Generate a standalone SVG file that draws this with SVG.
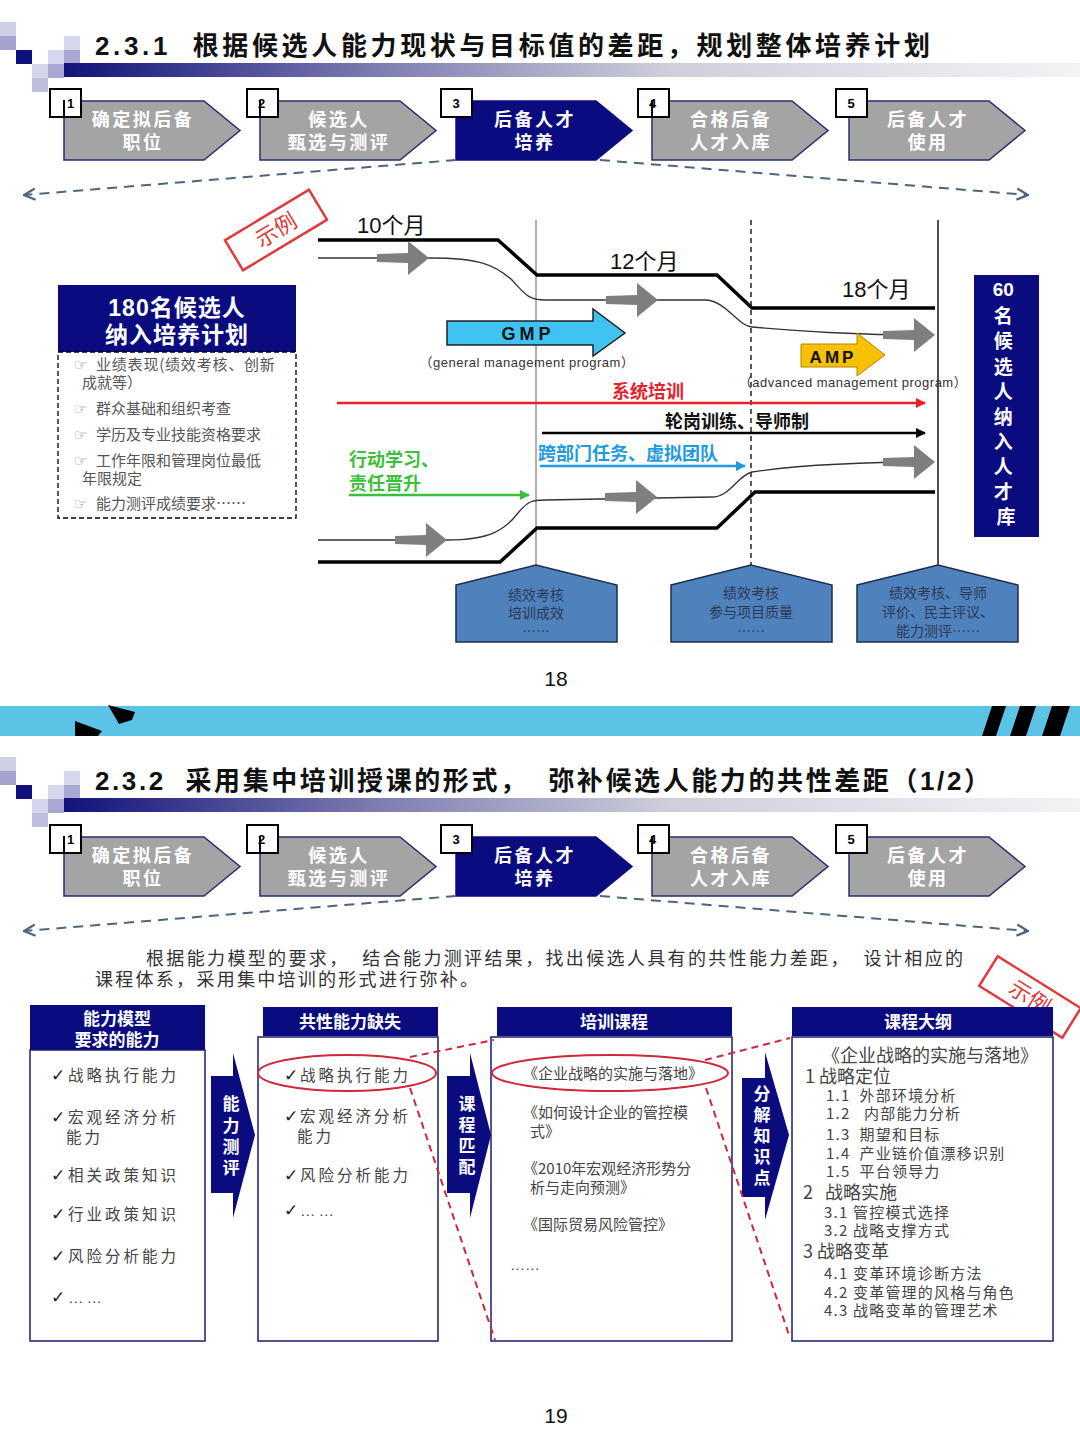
<svg xmlns="http://www.w3.org/2000/svg" width="1080" height="1443" viewBox="0 0 1080 1443">
<style>
.s{font-family:"Liberation Sans","Noto Sans CJK SC",sans-serif}
.c{font-family:"Noto Sans CJK SC","Liberation Sans",sans-serif}
.title{font-size:26px;font-weight:bold;fill:#111}
.step{font-size:18px;font-weight:bold;fill:#fff;letter-spacing:2.5px}
.num{font-size:13px;font-weight:bold;fill:#000}
.nbox{fill:#fff;stroke:#000;stroke-width:2}
.chevg{fill:#a4a4a4;stroke:#2b2b72;stroke-width:1.5}
.chevn{fill:#0b0b80;stroke:#0b0b80;stroke-width:1.5}
.dash{fill:none;stroke:#50647e;stroke-width:2;stroke-dasharray:10 7}
.item{font-size:15px;fill:#555}
.ico{font-family:"DejaVu Sans",sans-serif;font-size:15px;fill:#888}
.thick{fill:none;stroke:#000;stroke-width:3.5}
.thin{fill:none;stroke:#333;stroke-width:1.3}
.garr{fill:#7f7f7f}
.mon{font-size:22px;fill:#111}
.pent{fill:#4f81bd;stroke:#1d2c48;stroke-width:1.5}
.pt{font-size:14px;fill:#2c3a56;text-anchor:middle}
.hdr{fill:#0b0b80}
.hw{font-size:17px;font-weight:bold;fill:#fff;text-anchor:middle}
.body{fill:#fff;stroke:#1c1c6e;stroke-width:1.5}
.ci{font-size:15.5px;fill:#444;letter-spacing:3px}
.ck{font-family:"DejaVu Sans",sans-serif;font-size:17px;font-weight:bold;fill:#222}
.oi{font-size:15px;fill:#444}
.ol{font-size:15px;fill:#444;letter-spacing:1.2px}
.oh{font-size:18px;fill:#444}
.redd{fill:none;stroke:#d0283a;stroke-width:2;stroke-dasharray:7 5}
.stamp{fill:none;stroke:#e03a3a;stroke-width:2.5}
.vt{font-size:17px;font-weight:bold;fill:#fff;text-anchor:middle}
</style>
<defs>
<linearGradient id="bar" x1="0" x2="1" y1="0" y2="0">
<stop offset="0" stop-color="#12127a"/>
<stop offset="0.3" stop-color="#7a7ab0"/>
<stop offset="0.6" stop-color="#cfcfdc"/>
<stop offset="1" stop-color="#f3f3f5"/>
</linearGradient>
<g id="sq">
<rect x="0" y="22" width="16" height="14" fill="#cfcfe6"/>
<rect x="0" y="36" width="16" height="14" fill="#a3a3cf"/>
<rect x="16" y="50" width="16" height="14" fill="#10107a"/>
<rect x="32" y="64" width="16" height="14" fill="#d4d4ea"/>
<rect x="32" y="78" width="16" height="14" fill="#bdbddc"/>
<rect x="48" y="50" width="16" height="14" fill="#d6d6ec"/>
<rect x="48" y="64" width="16" height="14" fill="#a8a8d2"/>
<rect x="64" y="36" width="16" height="14" fill="#d6d6ec"/>
<rect x="64" y="50" width="16" height="14" fill="#a8a8d2"/>
<rect x="64" y="63" width="1016" height="14" fill="url(#bar)"/>
</g>
<path id="chev" d="M0,0 H140 L176,29.5 L140,59 H0 Z"/>
<path id="garrow" d="M-52,-4 L-21,-5 L-21,-17 L0,0 L-21,17 L-21,5 L-52,4 Z"/>
<marker id="mL" viewBox="0 0 10 10" refX="9" refY="5" markerWidth="7" markerHeight="7" markerUnits="strokeWidth" orient="auto">
<path d="M1,1 L9,5 L1,9" fill="none" stroke="#50647e" stroke-width="1.6"/>
</marker>
<marker id="mRed" viewBox="0 0 10 10" refX="9" refY="5" markerWidth="4" markerHeight="4" orient="auto"><path d="M0,0 L10,5 L0,10 Z" fill="#e8202a"/></marker>
<marker id="mBlk" viewBox="0 0 10 10" refX="9" refY="5" markerWidth="4" markerHeight="4" orient="auto"><path d="M0,0 L10,5 L0,10 Z" fill="#000"/></marker>
<marker id="mBlu" viewBox="0 0 10 10" refX="9" refY="5" markerWidth="4" markerHeight="4" orient="auto"><path d="M0,0 L10,5 L0,10 Z" fill="#1e9be0"/></marker>
<marker id="mGrn" viewBox="0 0 10 10" refX="9" refY="5" markerWidth="4" markerHeight="4" orient="auto"><path d="M0,0 L10,5 L0,10 Z" fill="#3cc03c"/></marker>
</defs>

<!-- ===== Slide 1 header ===== -->
<g id="header1">
<use href="#sq"/>
<text class="s title" x="95" y="55" textLength="835" xml:space="preserve">2.3.1  根据候选人能力现状与目标值的差距，规划整体培养计划</text>
</g>

<g id="steps1">
<g id="s1-step1"><use href="#chev" x="64" y="101" class="chevg"/><text class="c step" text-anchor="middle"><tspan x="143" y="126">确定拟后备</tspan><tspan x="143" y="149">职位</tspan></text><rect class="nbox" x="50" y="89" width="31" height="28"/><text class="s num" x="67" y="108">1</text><line x1="64" y1="100" x2="64" y2="117" stroke="#000" stroke-width="2"/></g>
<g id="s1-step2"><use href="#chev" x="260" y="101" class="chevg"/><text class="c step" text-anchor="middle"><tspan x="339" y="126">候选人</tspan><tspan x="339" y="149">甄选与测评</tspan></text><rect class="nbox" x="247" y="89" width="31" height="28"/><text class="s num" x="258" y="108">2</text><line x1="260" y1="100" x2="260" y2="117" stroke="#000" stroke-width="2"/></g>
<g id="s1-step3"><use href="#chev" x="456" y="101" class="chevn"/><text class="c step" text-anchor="middle"><tspan x="535" y="126">后备人才</tspan><tspan x="535" y="149">培养</tspan></text><rect class="nbox" x="441" y="89" width="31" height="28"/><text class="s num" x="456" y="108" text-anchor="middle">3</text></g>
<g id="s1-step4"><use href="#chev" x="652" y="101" class="chevg"/><text class="c step" text-anchor="middle"><tspan x="731" y="126">合格后备</tspan><tspan x="731" y="149">人才入库</tspan></text><rect class="nbox" x="638" y="89" width="31" height="28"/><text class="s num" x="649" y="108">4</text><line x1="652" y1="100" x2="652" y2="117" stroke="#000" stroke-width="2"/></g>
<g id="s1-step5"><use href="#chev" x="849" y="101" class="chevg"/><text class="c step" text-anchor="middle"><tspan x="928" y="126">后备人才</tspan><tspan x="928" y="149">使用</tspan></text><rect class="nbox" x="836" y="89" width="31" height="28"/><text class="s num" x="851" y="108" text-anchor="middle">5</text></g>
</g>

<g id="s1-connectors">
<path class="dash" d="M456,160 L24,195" marker-end="url(#mL)"/>
<path class="dash" d="M600,160 L1028,195" marker-end="url(#mL)"/>
</g>

<!-- stamp -->
<g id="stamp1" transform="translate(276,230) rotate(-31)">
<rect class="stamp" x="-49" y="-17.5" width="98" height="35" fill="#fff"/>
<text class="c" x="0" y="8" font-size="22" fill="#e03a3a" text-anchor="middle">示例</text>
</g>

<!-- left box -->
<g id="plan180">
<rect x="58" y="285" width="238" height="67" class="hdr"/>
<text class="s" font-size="23" font-weight="bold" fill="#fff" text-anchor="middle" letter-spacing="1"><tspan x="177" y="316">180名候选人</tspan><tspan x="177" y="343">纳入培养计划</tspan></text>
<rect x="58" y="352" width="238" height="166" fill="#fff" stroke="#000" stroke-width="1.3" stroke-dasharray="5 3"/>
<text class="ico" x="74" y="370">☞</text><text class="c item" x="96" y="370" letter-spacing="0.8">业绩表现(绩效考核、创新</text>
<text class="c item" x="82" y="388">成就等）</text>
<text class="ico" x="74" y="414">☞</text><text class="c item" x="96" y="414">群众基础和组织考查</text>
<text class="ico" x="74" y="440">☞</text><text class="c item" x="96" y="440">学历及专业技能资格要求</text>
<text class="ico" x="74" y="466">☞</text><text class="c item" x="96" y="466">工作年限和管理岗位最低</text>
<text class="c item" x="82" y="484">年限规定</text>
<text class="ico" x="74" y="509">☞</text><text class="c item" x="96" y="509">能力测评成绩要求……</text>
</g>

<!-- chart -->
<g id="chart-lines">
<line x1="536" y1="220" x2="536" y2="566" stroke="#7a7a7a" stroke-width="1.2"/>
<line x1="751" y1="220" x2="751" y2="566" stroke="#000" stroke-width="1.3" stroke-dasharray="5 4"/>
<line x1="938" y1="220" x2="938" y2="566" stroke="#222" stroke-width="1.6"/>
<path class="thick" d="M318,240 L498,240 L537,275 L717,275 L752,308 L935,308"/>
<path class="thick" d="M318,562 L500,562 L537,528 L717,528 L755,492 L935,492"/>
<path class="thin" d="M318,258 L430,258 C480,258 495,265 512,280 C525,294 528,300 545,300 L705,300 C725,300 738,326 752,327 C800,331 850,335 930,335"/>
<path class="thin" d="M318,540 L447,540 C490,540 505,530 518,513 C528,501 532,500 545,500 L712,497 C730,497 738,475 752,472 C800,465 850,462 930,462"/>
<use href="#garrow" class="garr" x="429" y="258"/>
<use href="#garrow" class="garr" x="658" y="300"/>
<use href="#garrow" class="garr" x="935" y="335"/>
<use href="#garrow" class="garr" x="447" y="540"/>
<use href="#garrow" class="garr" x="657" y="497"/>
<use href="#garrow" class="garr" x="935" y="462"/>
</g>
<g id="months">
<text class="s mon" x="357" y="233">10个月</text>
<text class="s mon" x="610" y="269">12个月</text>
<text class="s mon" x="842" y="297">18个月</text>
</g>
<g id="gmp">
<path d="M447,321 H593 V309 L625,333 L593,356 V345 H447 Z" fill="#3ec3f2" stroke="#222" stroke-width="1.5"/>
<text class="s" x="528" y="340" font-size="18" font-weight="bold" fill="#111" text-anchor="middle" letter-spacing="4">GMP</text>
<text class="s" x="527" y="367" font-size="13" fill="#333" text-anchor="middle" letter-spacing="0.5">（general management program）</text>
</g>
<g id="amp">
<path d="M801,344 H857 V333 L885,355 L857,376 V367 H801 Z" fill="#f7c000" stroke="#b08800" stroke-width="1"/>
<text class="s" x="833" y="363" font-size="17" font-weight="bold" fill="#111" text-anchor="middle" letter-spacing="3">AMP</text>
<text class="s" x="853" y="387" font-size="13" fill="#333" text-anchor="middle" letter-spacing="0.5">（advanced management program）</text>
</g>
<g id="tracks">
<text class="c" x="612" y="398" font-size="18" font-weight="bold" fill="#e8202a">系统培训</text>
<line x1="337" y1="403" x2="925" y2="403" stroke="#e8202a" stroke-width="2.5" marker-end="url(#mRed)"/>
<text class="c" x="665" y="428" font-size="18" font-weight="bold" fill="#111">轮岗训练、导师制</text>
<line x1="542" y1="433" x2="925" y2="433" stroke="#000" stroke-width="2.5" marker-end="url(#mBlk)"/>
<text class="c" x="538" y="460" font-size="18" font-weight="bold" fill="#1e9be0">跨部门任务、虚拟团队</text>
<line x1="540" y1="466" x2="745" y2="466" stroke="#1e9be0" stroke-width="2.5" marker-end="url(#mBlu)"/>
<text class="c" font-size="18" font-weight="bold" fill="#3cc03c"><tspan x="349" y="466">行动学习、</tspan><tspan x="349" y="490">责任晋升</tspan></text>
<line x1="349" y1="495" x2="529" y2="495" stroke="#3cc03c" stroke-width="2.5" marker-end="url(#mGrn)"/>
</g>
<g id="pool60">
<rect x="974" y="275" width="65" height="262" class="hdr"/>
<text class="s" font-size="19" font-weight="bold" fill="#fff" text-anchor="middle">
<tspan x="1006" y="296">60</tspan>
<tspan x="1006" y="323">名</tspan>
<tspan x="1006" y="348">候</tspan>
<tspan x="1006" y="374">选</tspan>
<tspan x="1006" y="399">人</tspan>
<tspan x="1006" y="424">纳</tspan>
<tspan x="1006" y="449">入</tspan>
<tspan x="1006" y="474">人</tspan>
<tspan x="1006" y="499">才</tspan>
<tspan x="1006" y="524">库</tspan>
</text>
</g>
<g id="eval1"><path class="pent" d="M456,585 L536,565 L617,585 L617,642 L456,642 Z"/><text class="c pt"><tspan x="536" y="600">绩效考核</tspan><tspan x="536" y="618">培训成效</tspan><tspan x="536" y="636">……</tspan></text></g>
<g id="eval2"><path class="pent" d="M671,585 L751,565 L832,585 L832,642 L671,642 Z"/><text class="c pt"><tspan x="751" y="598">绩效考核</tspan><tspan x="751" y="617">参与项目质量</tspan><tspan x="751" y="636">……</tspan></text></g>
<g id="eval3"><path class="pent" d="M857,585 L938,565 L1018,585 L1018,642 L857,642 Z"/><text class="c pt"><tspan x="938" y="598">绩效考核、导师</tspan><tspan x="938" y="617">评价、民主评议、</tspan><tspan x="938" y="636">能力测评……</tspan></text></g>
<text class="s" x="556" y="686" font-size="21" fill="#111" text-anchor="middle">18</text>

<!-- divider band -->
<g id="band">
<rect x="0" y="706" width="1080" height="30" fill="#5bc4e6"/>
<polygon points="75,721 102,731 98,736 75,736" fill="#000"/>
<polygon points="108,705 135,712 132,720 119,724" fill="#000"/>
<polygon points="982,736 992,706 1006,706 996,736" fill="#000"/>
<polygon points="1010,736 1020,706 1036,706 1026,736" fill="#000"/>
<polygon points="1042,736 1052,706 1070,706 1060,736" fill="#000"/>
</g>

<!-- ===== Slide 2 ===== -->
<g id="header2">
<use href="#sq" y="735"/>
<text class="s title" x="95" y="790" textLength="895" xml:space="preserve">2.3.2  采用集中培训授课的形式，  弥补候选人能力的共性差距（1/2）</text>
</g>

<g id="steps2" transform="translate(0,736)">
<g id="s2-step1"><use href="#chev" x="64" y="101" class="chevg"/><text class="c step" text-anchor="middle"><tspan x="143" y="126">确定拟后备</tspan><tspan x="143" y="149">职位</tspan></text><rect class="nbox" x="50" y="89" width="31" height="28"/><text class="s num" x="67" y="108">1</text><line x1="64" y1="100" x2="64" y2="117" stroke="#000" stroke-width="2"/></g>
<g id="s2-step2"><use href="#chev" x="260" y="101" class="chevg"/><text class="c step" text-anchor="middle"><tspan x="339" y="126">候选人</tspan><tspan x="339" y="149">甄选与测评</tspan></text><rect class="nbox" x="247" y="89" width="31" height="28"/><text class="s num" x="258" y="108">2</text><line x1="260" y1="100" x2="260" y2="117" stroke="#000" stroke-width="2"/></g>
<g id="s2-step3"><use href="#chev" x="456" y="101" class="chevn"/><text class="c step" text-anchor="middle"><tspan x="535" y="126">后备人才</tspan><tspan x="535" y="149">培养</tspan></text><rect class="nbox" x="441" y="89" width="31" height="28"/><text class="s num" x="456" y="108" text-anchor="middle">3</text></g>
<g id="s2-step4"><use href="#chev" x="652" y="101" class="chevg"/><text class="c step" text-anchor="middle"><tspan x="731" y="126">合格后备</tspan><tspan x="731" y="149">人才入库</tspan></text><rect class="nbox" x="638" y="89" width="31" height="28"/><text class="s num" x="649" y="108">4</text><line x1="652" y1="100" x2="652" y2="117" stroke="#000" stroke-width="2"/></g>
<g id="s2-step5"><use href="#chev" x="849" y="101" class="chevg"/><text class="c step" text-anchor="middle"><tspan x="928" y="126">后备人才</tspan><tspan x="928" y="149">使用</tspan></text><rect class="nbox" x="836" y="89" width="31" height="28"/><text class="s num" x="851" y="108" text-anchor="middle">5</text></g>
</g>
<g id="s2-connectors">
<path class="dash" d="M456,896 L24,931" marker-end="url(#mL)"/>
<path class="dash" d="M600,896 L1028,931" marker-end="url(#mL)"/>
</g>

<g id="intro">
<text class="c" x="146" y="965" font-size="18" fill="#333" textLength="817" xml:space="preserve">根据能力模型的要求，  结合能力测评结果，找出候选人具有的共性能力差距，  设计相应的</text>
<text class="c" x="95" y="986" font-size="18" fill="#333" textLength="383">课程体系，采用集中培训的形式进行弥补。</text>
</g>

<g id="stamp2" transform="translate(1030,997) rotate(32)">
<rect class="stamp" x="-49" y="-17.5" width="98" height="35" fill="#fff"/>
<text class="c" x="0" y="8" font-size="22" fill="#e03a3a" text-anchor="middle">示例</text>
</g>

<!-- column 1 -->
<g id="col-model">
<rect x="30" y="1005" width="175" height="45" class="hdr"/>
<text class="c hw"><tspan x="117" y="1025">能力模型</tspan><tspan x="117" y="1046">要求的能力</tspan></text>
<rect class="body" x="30" y="1050" width="175" height="291"/>
<text class="ck" x="51" y="1081">✓</text><text class="c ci" x="68" y="1081">战略执行能力</text>
<text class="ck" x="51" y="1123">✓</text><text class="c ci" x="68" y="1123">宏观经济分析</text>
<text class="c ci" x="66" y="1143">能力</text>
<text class="ck" x="51" y="1181">✓</text><text class="c ci" x="68" y="1181">相关政策知识</text>
<text class="ck" x="51" y="1220">✓</text><text class="c ci" x="68" y="1220">行业政策知识</text>
<text class="ck" x="51" y="1262">✓</text><text class="c ci" x="68" y="1262">风险分析能力</text>
<text class="ck" x="51" y="1303">✓</text><text class="s ci" x="68" y="1303">……</text>
</g>

<!-- column 2 -->
<g id="col-gap">
<rect x="263" y="1007" width="175" height="29" class="hdr"/>
<text class="c hw" x="350" y="1028">共性能力缺失</text>
<rect class="body" x="258" y="1037" width="180" height="304"/>
<ellipse cx="347" cy="1073" rx="89" ry="18" fill="none" stroke="#d0283a" stroke-width="2"/>
<text class="ck" x="284" y="1081">✓</text><text class="c ci" x="300" y="1081">战略执行能力</text>
<text class="ck" x="284" y="1122">✓</text><text class="c ci" x="300" y="1122">宏观经济分析</text>
<text class="c ci" x="297" y="1142">能力</text>
<text class="ck" x="284" y="1181">✓</text><text class="c ci" x="300" y="1181">风险分析能力</text>
<text class="ck" x="284" y="1216">✓</text><text class="s ci" x="300" y="1216">……</text>
</g>

<!-- column 3 -->
<g id="col-course">
<rect x="497" y="1007" width="235" height="29" class="hdr"/>
<text class="c hw" x="614" y="1028">培训课程</text>
<rect class="body" x="491" y="1037" width="241" height="304"/>
<ellipse cx="610" cy="1073" rx="118" ry="18" fill="none" stroke="#d0283a" stroke-width="2"/>
<text class="c oi" x="523" y="1079">《企业战略的实施与落地》</text>
<text class="c oi" x="523" y="1118">《如何设计企业的管控模</text>
<text class="c oi" x="530" y="1137">式》</text>
<text class="c oi" x="523" y="1174">《2010年宏观经济形势分</text>
<text class="c oi" x="530" y="1193">析与走向预测》</text>
<text class="c oi" x="523" y="1230">《国际贸易风险管控》</text>
<text class="s oi" x="510" y="1270">……</text>
</g>

<!-- column 4 -->
<g id="col-outline">
<rect x="792" y="1007" width="261" height="29" class="hdr"/>
<text class="c hw" x="918" y="1028">课程大纲</text>
<rect class="body" x="792" y="1037" width="261" height="304"/>
<text class="c oh" x="822" y="1062" font-size="17.5">《企业战略的实施与落地》</text>
<text class="c oh" x="805" y="1083" xml:space="preserve">1 战略定位</text>
<text class="c ol" x="826" y="1101" xml:space="preserve">1.1  外部环境分析</text>
<text class="c ol" x="826" y="1119" xml:space="preserve">1.2   内部能力分析</text>
<text class="c ol" x="826" y="1140" xml:space="preserve">1.3  期望和目标</text>
<text class="c ol" x="826" y="1159" xml:space="preserve">1.4  产业链价值漂移识别</text>
<text class="c ol" x="826" y="1177" xml:space="preserve">1.5  平台领导力</text>
<text class="c oh" x="803" y="1199" xml:space="preserve">2   战略实施</text>
<text class="c ol" x="824" y="1218" xml:space="preserve">3.1 管控模式选择</text>
<text class="c ol" x="824" y="1236" xml:space="preserve">3.2 战略支撑方式</text>
<text class="c oh" x="803" y="1258" xml:space="preserve">3 战略变革</text>
<text class="c ol" x="824" y="1279" xml:space="preserve">4.1 变革环境诊断方法</text>
<text class="c ol" x="824" y="1298" xml:space="preserve">4.2 变革管理的风格与角色</text>
<text class="c ol" x="824" y="1316" xml:space="preserve">4.3 战略变革的管理艺术</text>
</g>

<!-- flow arrows -->
<g id="arrow-assess">
<path d="M211,1076 H233 V1053 L255,1135 L233,1218 V1193 H211 Z" class="hdr"/>
<text class="c vt"><tspan x="231" y="1110">能</tspan><tspan x="231" y="1132">力</tspan><tspan x="231" y="1153">测</tspan><tspan x="231" y="1174">评</tspan></text>
</g>
<g id="arrow-match">
<path d="M447,1076 H470 V1053 L491,1135 L470,1218 V1193 H447 Z" class="hdr"/>
<text class="c vt"><tspan x="467" y="1110">课</tspan><tspan x="467" y="1131">程</tspan><tspan x="467" y="1152">匹</tspan><tspan x="467" y="1173">配</tspan></text>
</g>
<g id="arrow-decomp">
<path d="M742,1078 H765 V1052 L789,1135 L765,1220 V1197 H742 Z" class="hdr"/>
<text class="c vt"><tspan x="762" y="1100">分</tspan><tspan x="762" y="1121">解</tspan><tspan x="762" y="1142">知</tspan><tspan x="762" y="1163">识</tspan><tspan x="762" y="1184">点</tspan></text>
</g>

<g id="red-connectors">
<path class="redd" d="M410,1057 L494,1040"/>
<path class="redd" d="M410,1088 L495,1340"/>
<path class="redd" d="M705,1060 L790,1038"/>
<path class="redd" d="M706,1088 L790,1338"/>
</g>

<text class="s" x="556" y="1423" font-size="21" fill="#111" text-anchor="middle">19</text>
</svg>
